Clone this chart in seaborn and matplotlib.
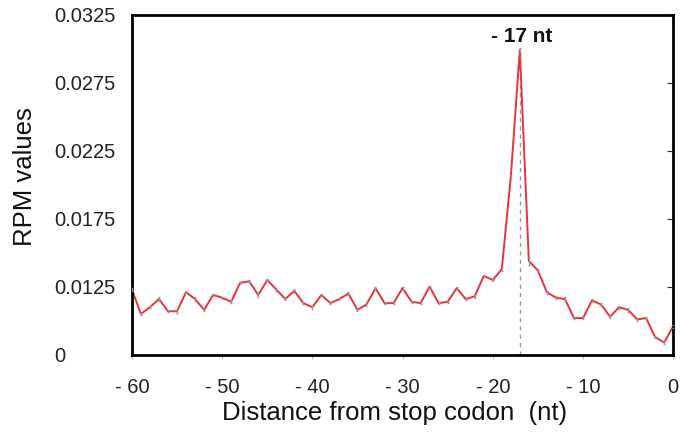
import matplotlib
matplotlib.use("Agg")
import matplotlib.pyplot as plt
import seaborn as sns
import pandas as pd

# distance from stop codon (nt) and RPM values
positions = list(range(-60, 1))
rpm = [0.0123, 0.0105, 0.0110, 0.0116, 0.0107, 0.0107, 0.0121, 0.0116, 0.0108, 0.0119,
       0.0117, 0.0114, 0.0128, 0.0129, 0.0119, 0.0130, 0.0123, 0.0116, 0.0122, 0.0113,
       0.0110, 0.0119, 0.0113, 0.0116, 0.0120, 0.0108, 0.0112, 0.0124, 0.0113, 0.0113,
       0.0124, 0.0114, 0.0113, 0.0125, 0.0113, 0.0114, 0.0124, 0.0116, 0.0118, 0.0133,
       0.0130, 0.0138, 0.0206, 0.0299, 0.0144, 0.0137, 0.0121, 0.0117, 0.0116, 0.0102,
       0.0102, 0.0115, 0.0112, 0.0103, 0.0110, 0.0108, 0.0101, 0.0102, 0.0088, 0.0084,
       0.0096]
rpm_err = [0.00012, 0.00010, 0.00008, 0.00012, 0.00008, 0.00010, 0.00008, 0.00012, 0.00010, 0.00010,
           0.00008, 0.00010, 0.00008, 0.00008, 0.00012, 0.00010, 0.00008, 0.00010, 0.00012, 0.00010,
           0.00010, 0.00008, 0.00010, 0.00008, 0.00010, 0.00008, 0.00010, 0.00008, 0.00010, 0.00008,
           0.00010, 0.00008, 0.00010, 0.00008, 0.00010, 0.00008, 0.00010, 0.00008, 0.00010, 0.00008,
           0.00010, 0.00012, 0.00015, 0.00015, 0.00030, 0.00012, 0.00010, 0.00012, 0.00012, 0.00010,
           0.00010, 0.00012, 0.00010, 0.00012, 0.00010, 0.00012, 0.00010, 0.00010, 0.00010, 0.00010,
           0.00010]
peak_pos = -17
peak_label = "- 17 nt"

xticks = [-60, -50, -40, -30, -20, -10, 0]
xticklabels = ["- 60", "- 50", "- 40", "- 30", "- 20", "- 10", "0"]
yticks = [0.0075, 0.0125, 0.0175, 0.0225, 0.0275, 0.0325]
yticklabels = ["0", "0.0125", "0.0175", "0.0225", "0.0275", "0.0325"]

df = pd.DataFrame({"pos": positions, "rpm": rpm, "err": rpm_err})

sns.set_style("white")
plt.rcParams['font.family'] = ['Liberation Sans', 'DejaVu Sans']

fig = plt.figure(figsize=(6.8, 4.38), dpi=100)
ax = fig.add_axes([0.194, 0.19, 0.796, 0.776])

ax.errorbar(df["pos"], df["rpm"], yerr=df["err"], fmt="none", ecolor="#999999",
            elinewidth=0.7, capsize=1.0, zorder=3)
sns.lineplot(data=df, x="pos", y="rpm", color="#e8323c", linewidth=1.4, ax=ax, zorder=2)

peak_val = df.loc[df["pos"] == peak_pos, "rpm"].iloc[0]
ax.vlines(peak_pos, 0.0075, peak_val, colors="#999999", linestyles=(0, (3, 3)), linewidth=1.0, zorder=1)
ax.text(peak_pos + 0.2, peak_val + 0.0003, peak_label, ha="center", va="bottom",
        fontsize=15, fontweight="bold", color="#111111")

ax.set_xlim(-60, 0)
ax.set_ylim(0.0075, 0.0325)
ax.set_xticks(xticks)
ax.set_xticklabels(xticklabels, fontsize=14.5, color="#222222")
ax.set_yticks(yticks)
ax.set_yticklabels(yticklabels, fontsize=14.5, ha="left", color="#222222")

ax.tick_params(axis="y", left=False, right=True, labelleft=True, labelright=False,
               direction="in", length=4, color="#333333", pad=56)
ax.tick_params(axis="x", bottom=True, direction="out", length=3, color="#bbbbbb", pad=14)

for s in ax.spines.values():
    s.set_color("black")
    s.set_linewidth(2.0)

ax.set_xlabel("Distance from stop codon  (nt)", fontsize=18.5, color="#111111")
ax.xaxis.set_label_coords(0.485, -0.135)
ax.set_ylabel("RPM values", fontsize=18.5, color="#111111")
ax.yaxis.set_label_coords(-0.175, 0.523)

fig.savefig("out.png", dpi=100)
